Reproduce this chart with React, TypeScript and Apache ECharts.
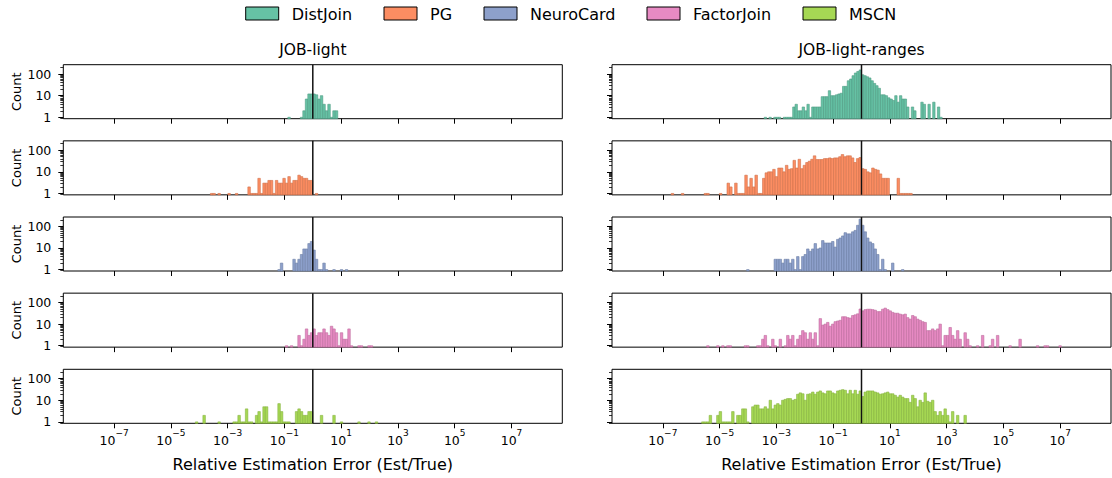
import React, { useEffect, useRef } from 'react';
import * as echarts from 'echarts';

// ---------- data ----------
const models = ['DistJoin', 'PG', 'NeuroCard', 'FactorJoin', 'MSCN'];
const workloads = ['JOB-light', 'JOB-light-ranges'];
const setColors = ['#66c2a5', '#fc8d62', '#8da0cb', '#e78ac3', '#a6d854'];
const edgeColors = ['#4f9c83', '#d0704a', '#6d7fa6', '#bd6d9d', '#86b33f'];

// x axis: log10(Est/True); y axis: log10(Count)
const xTickExponents = [-7, -5, -3, -1, 1, 3, 5, 7];
const yTickCounts = [1, 10, 100];
const yMinorTickCounts = [0.9, 2, 3, 4, 5, 6, 7, 8, 9, 20, 30, 40, 50, 60, 70, 80, 90, 200];
const referenceRatio = 1; // Est/True = 1
const xAxisTitle = 'Relative Estimation Error (Est/True)';
const yAxisTitle = 'Count';

// JOB-light (bin edges in log10 units)
const distJoinLightFirstEdge = -0.88;
const distJoinLightCounts = [1, 0, 0, 0, 0, 1, 2, 7, 12, 12, 12, 11, 7, 10, 4, 2, 4, 1, 2, 2];
const pgLightFirstEdge = -3.608;
const pgLightCounts = [1, 1, 0, 1, 0, 0, 0, 1, 0, 0, 1, 0, 0, 0, 0, 2, 1, 1, 1, 5, 1, 3, 3, 4, 4, 1, 4, 3, 3, 5, 3, 6, 3, 4, 4, 7, 6, 5, 5, 4, 4, 0, 1];
const neuroCardLightFirstEdge = -1.232;
const neuroCardLightCounts = [1, 2, 0, 0, 0, 0, 3, 2, 3, 5, 9, 9, 16, 20, 8, 3, 1, 1, 2, 1, 0, 0, 1, 0, 0, 1, 0, 1];
const factorJoinLightFirstEdge = -0.968;
const factorJoinLightCounts = [1, 0, 1, 0, 0, 3, 1, 2, 6, 3, 4, 6, 3, 4, 4, 6, 4, 3, 8, 6, 4, 1, 4, 2, 2, 6, 1, 0, 0, 1, 1, 0, 0, 1, 1];
const mscnLightFirstEdge = -4.136;
const mscnLightCounts = [
  1, 0, 0, 2, 0, 0, 0, 0, 0, 1,
  0, 0, 0, 0, 0, 1, 1, 2, 1, 1,
  4, 1, 1, 0, 2, 3, 1, 5, 5, 1,
  1, 1, 1, 7, 3, 1, 1, 1, 0, 0,
  3, 4, 3, 2, 2, 3, 3, 0, 0, 0,
  2, 0, 0, 0, 0, 2, 0, 0, 1, 0,
  0, 0, 0, 0, 0, 1, 0, 0, 0, 1,
  0, 0, 1,
];
const lightBinWidth = 0.088;

// JOB-light-ranges
const distJoinRangesFirstEdge = -3.428;
const distJoinRangesBinWidth = 0.0836;
const distJoinRangesCounts = [
  1, 0, 1, 0, 1, 1, 1, 0, 1, 1, 1, 1,
  3, 4, 2, 2, 3, 2, 4, 1, 3, 3, 3, 3, 9, 9, 9, 17, 10, 10, 11, 12, 13, 27, 27, 49, 59, 84, 112, 132, 155,
  93, 84, 75, 66, 49, 37, 29, 22, 11, 11, 10, 8, 7, 6, 10, 5, 10, 7, 7, 3, 0, 3, 2, 0, 0, 5, 4, 0, 4, 0, 5, 0, 3, 1,
];
const pgRangesFirstEdge = -6.705;
const pgRangesBinWidth = 0.0894;
const pgRangesCounts = [
  1, 0, 0, 0, 1, 0, 0, 0, 0, 0,
  0, 0, 0, 1, 1, 0, 0, 0, 0, 1,
  0, 0, 3, 2, 0, 3, 1, 1, 1, 7,
  2, 5, 2, 7, 1, 1, 5, 9, 10, 10,
  13, 6, 15, 15, 10, 20, 13, 14, 34, 15,
  38, 14, 20, 27, 31, 38, 55, 37, 37, 37,
  41, 41, 44, 41, 44, 44, 50, 63, 50, 55,
  55, 44, 27, 41, 46, 14, 13, 10, 9, 15,
  13, 12, 8, 5, 5, 5, 0, 0, 0, 5,
  1, 1, 1, 1, 1,
];
const rangesBinWidth = 0.088;
const neuroCardRangesFirstEdge = -4.048;
const neuroCardRangesCounts = [
  1, 0, 0, 0, 0, 0, 0, 0, 0, 0, 0,
  3, 3, 3, 2, 3, 3, 2, 3, 1, 4,
  1, 4, 5, 9, 7, 9, 16, 9, 10, 22,
  17, 17, 17, 20, 11, 25, 29, 36, 51, 45,
  45, 56, 65, 112, 215,
  112, 56, 29, 19, 16, 9, 5, 1, 3, 1, 0, 0, 2, 0, 0, 0, 1,
];
const factorJoinRangesFirstEdge = -5.456;
const factorJoinRangesCounts = [
  1, 0, 0, 0, 1, 0, 1, 0, 1, 1,
  0, 0, 0, 0, 0, 1, 1, 0, 0, 0,
  1, 1, 2, 3, 1, 0, 2, 1, 0, 2,
  0, 1, 3, 2, 3, 1, 2, 3, 5, 4,
  2, 4, 2, 4, 1, 18, 9, 10, 12, 8,
  10, 13, 14, 15, 22, 22, 20, 19, 25, 27,
  30, 50,
  41, 47, 49, 49, 47, 44, 38, 38, 49, 55,
  47, 41, 35, 32, 32, 29, 27, 29, 20, 17,
  25, 22, 17, 15, 13, 12, 5, 5, 6, 5,
  6, 10, 1, 3, 3, 7, 3, 2, 5, 2,
  0, 4, 2, 1, 0, 0, 1, 0, 3, 0,
  0, 1, 2, 0, 3, 0, 0, 0, 0, 1,
  0, 0, 0, 2, 0, 0, 0, 0, 0, 0,
  1, 0, 0, 1, 1, 0, 0, 0, 0, 1,
];
const mscnRangesFirstEdge = -5.632;
const mscnRangesCounts = [
  1, 1, 1, 2, 0, 0, 2, 3, 1, 1,
  1, 1, 3, 0, 2, 2, 4, 4, 1, 0,
  5, 6, 6, 4, 4, 5, 4, 10, 4, 6,
  7, 6, 10, 11, 12, 12, 10, 11, 19, 22,
  20, 10, 19, 20, 24, 19, 24, 27, 22, 20,
  27, 27, 22, 20, 27, 29, 31, 29, 20, 29,
  20, 29, 19, 27,
  15, 24, 27, 27, 27, 24, 22, 19, 20, 22,
  24, 20, 20, 17, 14, 17, 14, 12, 12, 8,
  17, 12, 5, 10, 8, 22, 9, 8, 10, 3,
  2, 3, 2, 4, 2, 1, 3, 0, 2, 0, 0, 2,
];

const panels = [
  { col: 0, model: 0, firstEdge: distJoinLightFirstEdge, binWidth: lightBinWidth, counts: distJoinLightCounts },
  { col: 0, model: 1, firstEdge: pgLightFirstEdge, binWidth: lightBinWidth, counts: pgLightCounts },
  { col: 0, model: 2, firstEdge: neuroCardLightFirstEdge, binWidth: lightBinWidth, counts: neuroCardLightCounts },
  { col: 0, model: 3, firstEdge: factorJoinLightFirstEdge, binWidth: lightBinWidth, counts: factorJoinLightCounts },
  { col: 0, model: 4, firstEdge: mscnLightFirstEdge, binWidth: lightBinWidth, counts: mscnLightCounts },
  { col: 1, model: 0, firstEdge: distJoinRangesFirstEdge, binWidth: distJoinRangesBinWidth, counts: distJoinRangesCounts },
  { col: 1, model: 1, firstEdge: pgRangesFirstEdge, binWidth: pgRangesBinWidth, counts: pgRangesCounts },
  { col: 1, model: 2, firstEdge: neuroCardRangesFirstEdge, binWidth: rangesBinWidth, counts: neuroCardRangesCounts },
  { col: 1, model: 3, firstEdge: factorJoinRangesFirstEdge, binWidth: rangesBinWidth, counts: factorJoinRangesCounts },
  { col: 1, model: 4, firstEdge: mscnRangesFirstEdge, binWidth: rangesBinWidth, counts: mscnRangesCounts },
];

// ---------- layout ----------
const FONT = "'DejaVu Sans', sans-serif";
const X_MIN = -8.79;
const X_MAX = 8.79;
const Y_MIN = -0.065;
const Y_MAX = 2.433;
const GRID_LEFT = [63.3, 612];
const GRID_WIDTH = 499;
const GRID_TOP0 = 64.7;
const ROW_PITCH = 76.15;
const GRID_HEIGHT = 54;
const legendPatchX = [245.7, 384, 484, 647, 803];

const log10 = (v: number) => Math.log10(v);

function buildOption() {
  const grids: any[] = [];
  const xAxes: any[] = [];
  const yAxes: any[] = [];
  const series: any[] = [];

  panels.forEach((p, g) => {
    const row = p.model;
    const isBottom = row === 4;
    const isLeft = p.col === 0;
    grids.push({
      left: GRID_LEFT[p.col],
      top: GRID_TOP0 + row * ROW_PITCH,
      width: GRID_WIDTH,
      height: GRID_HEIGHT,
      show: true,
      borderColor: '#000',
      borderWidth: 1,
      backgroundColor: 'transparent',
      containLabel: false,
      outerBoundsMode: 'none',
    });
    xAxes.push({
      gridIndex: g,
      type: 'value',
      min: X_MIN,
      max: X_MAX,
      axisLine: { show: false, onZero: false },
      axisTick: { show: true, customValues: xTickExponents, length: 5, lineStyle: { color: '#000', width: 1 } },
      axisLabel: {
        show: isBottom,
        customValues: xTickExponents,
        margin: 5,
        formatter: (v: number) => {
          const e = Math.round(v);
          return `{b|10}{s|${e < 0 ? '\u2212' : ''}${Math.abs(e)}}`;
        },
        rich: {
          b: { fontSize: 12.5, fontFamily: FONT, color: '#000', lineHeight: 19, verticalAlign: 'bottom' },
          s: { fontSize: 9, fontFamily: FONT, color: '#000', lineHeight: 11, verticalAlign: 'top' },
        },
      },
      splitLine: { show: false },
      name: isBottom ? xAxisTitle : '',
      nameLocation: 'middle',
      nameGap: 33,
      nameTextStyle: { fontSize: 16, fontFamily: FONT, color: '#000' },
    });
    yAxes.push({
      gridIndex: g,
      type: 'value',
      position: 'left',
      min: Y_MIN,
      max: Y_MAX,
      axisLine: { show: false, onZero: false },
      axisTick: { show: true, customValues: yTickCounts.map(log10), length: 5, lineStyle: { color: '#000', width: 1 } },
      axisLabel: {
        show: isLeft,
        customValues: yTickCounts.map(log10),
        margin: 12,
        fontSize: 12.5,
        fontFamily: FONT,
        color: '#000',
        formatter: (v: number) => String(Math.round(Math.pow(10, v))),
      },
      splitLine: { show: false },
      name: isLeft ? yAxisTitle : '',
      nameLocation: 'middle',
      nameGap: 40,
      nameTextStyle: { fontSize: 13, fontFamily: FONT, color: '#000' },
    });
    yAxes.push({
      gridIndex: g,
      type: 'value',
      position: 'left',
      offset: 0,
      min: Y_MIN,
      max: Y_MAX,
      axisLine: { show: false, onZero: false },
      axisTick: { show: true, customValues: yMinorTickCounts.map(log10), length: 3, lineStyle: { color: '#000', width: 0.8 } },
      axisLabel: { show: false },
      splitLine: { show: false },
    });

    const fill = setColors[p.model];
    const stroke = edgeColors[p.model];
    const data: number[][] = [];
    p.counts.forEach((c, i) => {
      if (c > 0) data.push([p.firstEdge + i * p.binWidth, p.firstEdge + (i + 1) * p.binWidth, log10(c)]);
    });
    series.push({
      type: 'custom',
      name: models[p.model],
      xAxisIndex: g,
      yAxisIndex: 2 * g,
      silent: true,
      encode: { x: [0, 1], y: 2 },
      itemStyle: { color: fill },
      data,
      renderItem: (params: any, api: any) => {
        const tl = api.coord([api.value(0), api.value(2)]);
        const br = api.coord([api.value(1), Y_MIN]);
        return {
          type: 'rect',
          shape: { x: tl[0], y: tl[1], width: br[0] - tl[0], height: br[1] - tl[1] },
          style: { fill, stroke, lineWidth: 0.6 },
        };
      },
    });
    series.push({
      type: 'line',
      xAxisIndex: g,
      yAxisIndex: 2 * g,
      silent: true,
      symbol: 'none',
      z: 5,
      lineStyle: { color: '#111', width: 1.5 },
      data: [[log10(referenceRatio), Y_MIN], [log10(referenceRatio), Y_MAX]],
    });
  });

  const graphics: any[] = [];
  workloads.forEach((w, c) => {
    graphics.push({
      type: 'text',
      x: GRID_LEFT[c] + GRID_WIDTH / 2,
      y: 50,
      style: { text: w, fontSize: 15.5, fontFamily: FONT, fill: '#000', align: 'center', verticalAlign: 'middle' },
    });
  });
  models.forEach((m, i) => {
    graphics.push({
      type: 'rect',
      shape: { x: legendPatchX[i], y: 7, width: 33, height: 13 },
      style: { fill: setColors[i], stroke: '#000', lineWidth: 1 },
    });
    graphics.push({
      type: 'text',
      x: legendPatchX[i] + 46,
      y: 14,
      style: { text: m, fontSize: 16, fontFamily: FONT, fill: '#000', align: 'left', verticalAlign: 'middle' },
    });
  });

  return {
    animation: false,
    backgroundColor: '#fff',
    textStyle: { fontFamily: FONT },
    grid: grids,
    xAxis: xAxes,
    yAxis: yAxes,
    series,
    graphic: graphics,
  };
}

export default function App() {
  const ref = useRef<HTMLDivElement>(null);
  useEffect(() => {
    if (!ref.current) return;
    const chart = echarts.init(ref.current, undefined, { renderer: 'svg' });
    chart.setOption(buildOption() as any);
    return () => chart.dispose();
  }, []);
  return <div ref={ref} style={{ position: 'absolute', left: 0, top: 0, width: 1112, height: 478 }} />;
}
